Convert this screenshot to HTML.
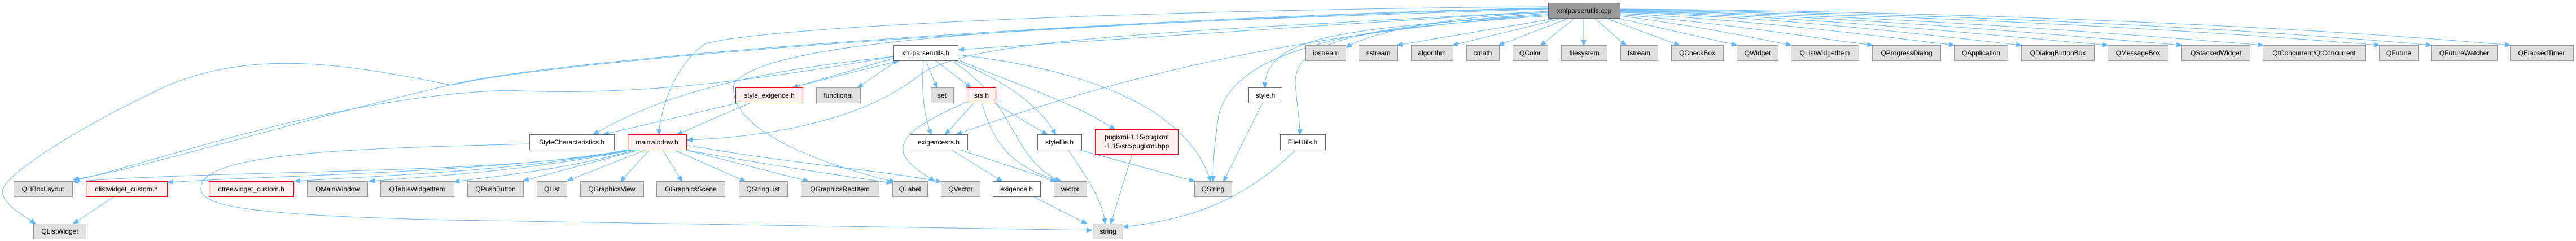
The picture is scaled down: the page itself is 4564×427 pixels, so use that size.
<!DOCTYPE html>
<html><head><meta charset="utf-8"><style>
html,body{margin:0;padding:0;background:#fff;}
svg{display:block;}
text{font-family:"Liberation Sans",Arial,sans-serif;font-size:12px;fill:#000;}
.g{fill:#e0e0e0;stroke:#999;stroke-width:1;}
.w{fill:#fff;stroke:#666;stroke-width:1;}
.r{fill:#fff0f0;stroke:#ff0000;stroke-width:1;}
.root{fill:#999;stroke:#666;stroke-width:1;}
path{fill:none;stroke:#63b8ff;stroke-width:1;marker-end:url(#a);}
</style></head><body>
<svg width="4564" height="427" viewBox="0 0 4564 427" xmlns="http://www.w3.org/2000/svg">
<defs><marker id="a" viewBox="0 0 10 10" refX="9" refY="5" markerWidth="10" markerHeight="10" markerUnits="userSpaceOnUse" orient="auto"><path d="M0,1 L10,5 L0,9 z" style="fill:#63b8ff;stroke:#63b8ff;marker-end:none"/></marker></defs>
<g>
<path d="M2760,32 L2476,80"/>
<path d="M2770,32 L2574,80"/>
<path d="M2780,32 L2656,80"/>
<path d="M2790,32 L2730,80"/>
<path d="M2806,32 L2806,80"/>
<path d="M2825,32 L2880,80"/>
<path d="M2845,32 L2975,80"/>
<path d="M2865,32 L3077,80"/>
<path d="M2870,28 C3000,45 3100,65 3173,80"/>
<path d="M2870,26 C3050,40 3200,65 3317,80"/>
<path d="M2870,24 C3100,35 3300,60 3462,80"/>
<path d="M2870,22 C3150,30 3400,60 3581,80"/>
<path d="M2870,21 C3200,28 3500,60 3734,80"/>
<path d="M2870,20 C3250,26 3600,58 3865,80"/>
<path d="M2870,19 C3300,25 3700,55 4009,80"/>
<path d="M2870,18 C3350,24 3850,50 4215,80"/>
<path d="M2870,17 C3400,22 3950,48 4307,80"/>
<path d="M2870,16 C3450,20 4050,45 4447,80"/>
<path d="M2743,22 C2550,30 2420,60 2386,84"/>
<path d="M2743,20 C2400,40 2000,70 1699,88"/>
<path d="M2743,26 C2400,50 2240,60 2241,155"/>
<path d="M2743,28 C2450,50 2290,60 2295,150 C2300,200 2303,220 2303,238"/>
<path d="M2743,24 C2350,50 2190,100 2160,200 C2150,260 2149,300 2149,321"/>
<path d="M2743,26 C2300,60 2000,130 1695,238"/>
<path d="M2743,20 C2000,60 1700,70 1620,140 C1500,230 1300,245 1218,248"/>
<path d="M2743,12 C2200,15 1400,40 1250,77 C1190,120 1170,200 1167,238"/>
<path d="M2743,16 C2000,40 1350,60 1300,150 C1290,230 1450,290 1585,322"/>
<path d="M2743,14 C2000,30 1000,100 800,150 C500,220 250,300 130,318"/>
<path d="M2743,15 C2000,32 1000,102 800,151 C600,110 450,90 300,150 C150,220 20,300 5,335 C0,360 40,380 62,396"/>
<path d="M1584,100 C1300,150 1100,170 900,160 C600,170 300,280 132,320"/>
<path d="M1584,100 C1400,120 1200,150 1052,238"/>
<path d="M1584,103 L1405,155"/>
<path d="M1395,157 L1592,108"/>
<path d="M1590,107 L1520,155"/>
<path d="M1640,107 L1660,155"/>
<path d="M1657,107 L1720,155"/>
<path d="M1636,107 C1633,150 1634,200 1650,238"/>
<path d="M1690,107 C1800,150 1850,200 1870,238"/>
<path d="M1690,110 C1800,180 1790,280 1878,321"/>
<path d="M1697,106 C1800,150 1900,180 1975,229"/>
<path d="M1697,97 C1900,120 2100,180 2145,321"/>
<path d="M1120,265 C900,310 400,300 130,322"/>
<path d="M1115,265 C900,305 500,310 298,323"/>
<path d="M1118,265 C950,300 700,310 523,321"/>
<path d="M1120,266 C950,300 800,310 655,321"/>
<path d="M1125,266 C1000,300 900,310 805,322"/>
<path d="M1135,265 L928,320"/>
<path d="M1145,265 L1006,320"/>
<path d="M1151,265 L1100,321"/>
<path d="M1174,265 L1208,321"/>
<path d="M1193,265 L1320,321"/>
<path d="M1212,265 L1432,321"/>
<path d="M1216,266 C1350,290 1480,310 1580,324"/>
<path d="M1216,257 C1400,290 1550,300 1667,322"/>
<path d="M938,255 C700,262 400,265 360,320 C340,360 380,380 800,390 C1300,400 1700,405 1934,408"/>
<path d="M1310,182 L1070,238"/>
<path d="M1330,182 L1200,238"/>
<path d="M1726,182 L1675,238"/>
<path d="M1760,182 L1855,238"/>
<path d="M1740,182 C1760,260 1800,300 1880,321"/>
<path d="M1713,180 C1650,210 1580,240 1605,280 C1620,300 1640,310 1655,321"/>
<path d="M1685,265 L1775,321"/>
<path d="M1700,265 L1870,321"/>
<path d="M1830,348 L1925,396"/>
<path d="M1892,265 C1930,320 1955,360 1958,396"/>
<path d="M1910,265 L2116,321"/>
<path d="M2006,273 L1968,396"/>
<path d="M2237,182 L2168,321"/>
<path d="M2296,265 C2200,360 2100,390 1990,402"/>
<path d="M203,348 L130,396"/>
</g>
<g>
<rect class="root" x="2743.5" y="5.5" width="127" height="27"/><text x="2807" y="23" text-anchor="middle">xmlparserutils.cpp</text>
<rect class="g" x="2313.5" y="80.5" width="71" height="27"/><text x="2349" y="98" text-anchor="middle">iostream</text>
<rect class="g" x="2407.5" y="80.5" width="69" height="27"/><text x="2442" y="98" text-anchor="middle">sstream</text>
<rect class="g" x="2500.5" y="80.5" width="74" height="27"/><text x="2537" y="98" text-anchor="middle">algorithm</text>
<rect class="g" x="2598.5" y="80.5" width="58" height="27"/><text x="2627" y="98" text-anchor="middle">cmath</text>
<rect class="g" x="2680.5" y="80.5" width="62" height="27"/><text x="2711" y="98" text-anchor="middle">QColor</text>
<rect class="g" x="2766.5" y="80.5" width="81" height="27"/><text x="2807" y="98" text-anchor="middle">filesystem</text>
<rect class="g" x="2871.5" y="80.5" width="66" height="27"/><text x="2904" y="98" text-anchor="middle">fstream</text>
<rect class="g" x="2961.5" y="80.5" width="92" height="27"/><text x="3007" y="98" text-anchor="middle">QCheckBox</text>
<rect class="g" x="3077.5" y="80.5" width="73" height="27"/><text x="3114" y="98" text-anchor="middle">QWidget</text>
<rect class="g" x="3173.5" y="80.5" width="120" height="27"/><text x="3233" y="98" text-anchor="middle">QListWidgetItem</text>
<rect class="g" x="3317.5" y="80.5" width="121" height="27"/><text x="3378" y="98" text-anchor="middle">QProgressDialog</text>
<rect class="g" x="3462.5" y="80.5" width="95" height="27"/><text x="3510" y="98" text-anchor="middle">QApplication</text>
<rect class="g" x="3581.5" y="80.5" width="129" height="27"/><text x="3646" y="98" text-anchor="middle">QDialogButtonBox</text>
<rect class="g" x="3734.5" y="80.5" width="107" height="27"/><text x="3788" y="98" text-anchor="middle">QMessageBox</text>
<rect class="g" x="3865.5" y="80.5" width="121" height="27"/><text x="3926" y="98" text-anchor="middle">QStackedWidget</text>
<rect class="g" x="4009.5" y="80.5" width="182" height="27"/><text x="4100" y="98" text-anchor="middle">QtConcurrent/QtConcurrent</text>
<rect class="g" x="4215.5" y="80.5" width="69" height="27"/><text x="4250" y="98" text-anchor="middle">QFuture</text>
<rect class="g" x="4307.5" y="80.5" width="117" height="27"/><text x="4366" y="98" text-anchor="middle">QFutureWatcher</text>
<rect class="g" x="4447.5" y="80.5" width="112" height="27"/><text x="4503" y="98" text-anchor="middle">QElapsedTimer</text>
<rect class="w" x="1583.5" y="80.5" width="114" height="27"/><text x="1640" y="98" text-anchor="middle">xmlparserutils.h</text>
<rect class="r" x="1303.5" y="155.5" width="119" height="27"/><text x="1363" y="173" text-anchor="middle">style_exigence.h</text>
<rect class="g" x="1446.5" y="155.5" width="78" height="27"/><text x="1485" y="173" text-anchor="middle">functional</text>
<rect class="g" x="1649.5" y="155.5" width="40" height="27"/><text x="1669" y="173" text-anchor="middle">set</text>
<rect class="r" x="1713.5" y="155.5" width="51" height="27"/><text x="1739" y="173" text-anchor="middle">srs.h</text>
<rect class="w" x="2212.5" y="155.5" width="59" height="27"/><text x="2242" y="173" text-anchor="middle">style.h</text>
<rect class="w" x="938.5" y="238.5" width="150" height="27"/><text x="1013" y="256" text-anchor="middle">StyleCharacteristics.h</text>
<rect class="r" x="1112.5" y="238.5" width="104" height="27"/><text x="1164" y="256" text-anchor="middle">mainwindow.h</text>
<rect class="w" x="1612.5" y="238.5" width="102" height="27"/><text x="1663" y="256" text-anchor="middle">exigencesrs.h</text>
<rect class="w" x="1838.5" y="238.5" width="78" height="27"/><text x="1877" y="256" text-anchor="middle">stylefile.h</text>
<rect class="r" x="1940.5" y="229.5" width="147" height="44"/><text x="2014" y="247" text-anchor="middle">pugixml-1.15/pugixml</text><text x="2014" y="263" text-anchor="middle">-1.15/src/pugixml.hpp</text>
<rect class="w" x="2268.5" y="238.5" width="80" height="27"/><text x="2308" y="256" text-anchor="middle">FileUtils.h</text>
<rect class="g" x="24.5" y="321.5" width="104" height="27"/><text x="76" y="339" text-anchor="middle">QHBoxLayout</text>
<rect class="r" x="152.5" y="321.5" width="144" height="27"/><text x="224" y="339" text-anchor="middle">qlistwidget_custom.h</text>
<rect class="r" x="370.5" y="321.5" width="150" height="27"/><text x="445" y="339" text-anchor="middle">qtreewidget_custom.h</text>
<rect class="g" x="544.5" y="321.5" width="107" height="27"/><text x="598" y="339" text-anchor="middle">QMainWindow</text>
<rect class="g" x="674.5" y="321.5" width="130" height="27"/><text x="739" y="339" text-anchor="middle">QTableWidgetItem</text>
<rect class="g" x="828.5" y="321.5" width="99" height="27"/><text x="878" y="339" text-anchor="middle">QPushButton</text>
<rect class="g" x="951.5" y="321.5" width="53" height="27"/><text x="978" y="339" text-anchor="middle">QList</text>
<rect class="g" x="1028.5" y="321.5" width="112" height="27"/><text x="1084" y="339" text-anchor="middle">QGraphicsView</text>
<rect class="g" x="1163.5" y="321.5" width="121" height="27"/><text x="1224" y="339" text-anchor="middle">QGraphicsScene</text>
<rect class="g" x="1309.5" y="321.5" width="86" height="27"/><text x="1352" y="339" text-anchor="middle">QStringList</text>
<rect class="g" x="1419.5" y="321.5" width="138" height="27"/><text x="1488" y="339" text-anchor="middle">QGraphicsRectItem</text>
<rect class="g" x="1581.5" y="321.5" width="62" height="27"/><text x="1612" y="339" text-anchor="middle">QLabel</text>
<rect class="g" x="1667.5" y="321.5" width="69" height="27"/><text x="1702" y="339" text-anchor="middle">QVector</text>
<rect class="w" x="1759.5" y="321.5" width="84" height="27"/><text x="1801" y="339" text-anchor="middle">exigence.h</text>
<rect class="g" x="1867.5" y="321.5" width="58" height="27"/><text x="1896" y="339" text-anchor="middle">vector</text>
<rect class="g" x="2116.5" y="321.5" width="66" height="27"/><text x="2149" y="339" text-anchor="middle">QString</text>
<rect class="g" x="59.5" y="396.5" width="93" height="27"/><text x="106" y="414" text-anchor="middle">QListWidget</text>
<rect class="g" x="1936.5" y="396.5" width="53" height="27"/><text x="1963" y="414" text-anchor="middle">string</text>
</g>
</svg>
</body></html>
